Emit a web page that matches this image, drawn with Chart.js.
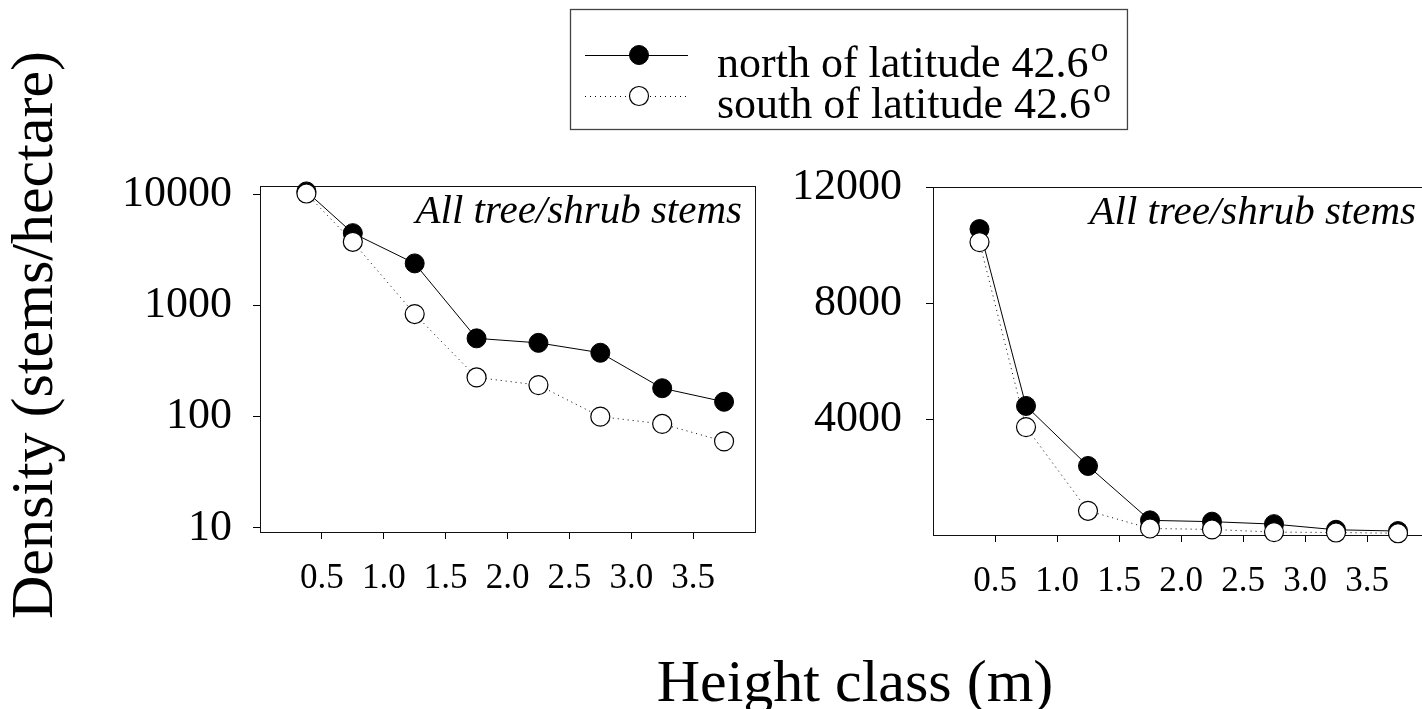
<!DOCTYPE html>
<html>
<head>
<meta charset="utf-8">
<script src="https://cdn.jsdelivr.net/npm/chart.js@4.4.1/dist/chart.umd.min.js"></script>
<style>
  html, body { margin: 0; padding: 0; background: #fff; }
  #wrap { position: relative; width: 1422px; height: 709px; overflow: hidden; background: #fff; }
  canvas { position: absolute; top: 0; }
  #logPanel { left: 0; }
  #linPanel { left: 760px; }
</style>
</head>
<body>
<div id="wrap">
  <canvas id="logPanel" width="1422" height="709"></canvas>
  <canvas id="linPanel" width="680" height="709"></canvas>
</div>
<script>
// Height class midpoints (m) and stem densities (stems/hectare)
const heightClass  = [0.375, 0.75, 1.25, 1.75, 2.25, 2.75, 3.25, 3.75];
const northDensity = [10550, 4450, 2380, 505, 460, 375, 180, 136];
const southDensity = [10100, 3720, 835, 225, 192, 100, 86, 60];

// Tick values
const xTickValues   = [0.5, 1.0, 1.5, 2.0, 2.5, 3.0, 3.5];
const logTickValues = [10, 100, 1000, 10000];
const linTickValues = [4000, 8000, 12000];

// Text
const seriesNames = ['north of latitude 42.6', 'south of latitude 42.6'];
const degreeMark  = 'o';
const panelLabel  = 'All tree/shrub stems';
const yTitle      = 'Density (stems/hectare)';
const xTitle      = 'Height class (m)';

const SERIF = "'Liberation Serif', 'Times New Roman', serif";

function toPoints(values) {
  return heightClass.map((x, i) => ({ x: x, y: values[i] }));
}

function makeDatasets() {
  return [
    {
      label: seriesNames[0],
      data: toPoints(northDensity),
      borderColor: '#000',
      borderWidth: 1,
      backgroundColor: '#000',
      pointBackgroundColor: '#000',
      pointBorderColor: '#000',
      pointBorderWidth: 1,
      pointRadius: 9.5,
      order: 2,
      clip: false,
      tension: 0
    },
    {
      label: seriesNames[1],
      data: toPoints(southDensity),
      borderColor: '#000',
      borderWidth: 1,
      borderDash: [1, 4],
      backgroundColor: '#fff',
      pointBackgroundColor: '#fff',
      pointBorderColor: '#000',
      pointBorderWidth: 1.2,
      pointRadius: 9.5,
      order: 1,
      clip: false,
      tension: 0
    }
  ];
}

// Box around the plotting area plus the italic panel caption
const panelFrame = {
  id: 'panelFrame',
  beforeDatasetsDraw(chart) {
    const { ctx, chartArea: a } = chart;
    ctx.save();
    ctx.strokeStyle = '#111';
    ctx.lineWidth = 1;
    ctx.strokeRect(Math.round(a.left) + 0.5, Math.round(a.top) + 0.5,
                   Math.round(a.right - a.left), Math.round(a.bottom - a.top));
    ctx.font = 'italic 41px ' + SERIF;
    ctx.fillStyle = '#000';
    ctx.textAlign = 'right';
    ctx.textBaseline = 'alphabetic';
    ctx.fillText(panelLabel, a.right - 13, a.top + 37);
    ctx.restore();
  }
};

// Shared axis titles and the legend box spanning both panels
const sharedText = {
  id: 'sharedText',
  afterDraw(chart) {
    const ctx = chart.ctx;
    ctx.save();
    ctx.fillStyle = '#000';
    ctx.font = '60px ' + SERIF;
    ctx.textAlign = 'center';
    ctx.textBaseline = 'alphabetic';
    ctx.translate(52, 335);
    ctx.rotate(-Math.PI / 2);
    ctx.fillText(yTitle, 0, 0);
    ctx.restore();

    ctx.save();
    ctx.fillStyle = '#000';
    ctx.font = '60px ' + SERIF;
    ctx.textAlign = 'center';
    ctx.textBaseline = 'alphabetic';
    ctx.fillText(xTitle, 855, 701);
    ctx.restore();

    // legend
    const ds = chart.data.datasets;
    const rowY = [55, 96];
    const baseY = [77, 118];
    const lineX0 = 585, lineX1 = 688, markX = 639, textX = 717;
    ctx.save();
    ctx.font = '44px ' + SERIF;
    let maxW = 0;
    ds.forEach(d => { maxW = Math.max(maxW, ctx.measureText(d.label).width); });
    ctx.font = '36px ' + SERIF;
    const supW = ctx.measureText(degreeMark).width;
    const boxL = 570, boxT = 9, boxB = 129;
    const boxR = textX + maxW + 2 + supW + 16;
    ctx.strokeStyle = '#444';
    ctx.lineWidth = 1.3;
    ctx.strokeRect(boxL + 0.5, boxT + 0.5, boxR - boxL, boxB - boxT);

    ds.forEach((d, i) => {
      const y = rowY[i];
      ctx.save();
      ctx.strokeStyle = d.borderColor;
      ctx.lineWidth = d.borderWidth;
      ctx.setLineDash(d.borderDash || []);
      ctx.beginPath();
      ctx.moveTo(lineX0, y + 0.5);
      ctx.lineTo(lineX1, y + 0.5);
      ctx.stroke();
      ctx.setLineDash([]);
      ctx.beginPath();
      ctx.arc(markX, y, d.pointRadius, 0, Math.PI * 2);
      ctx.fillStyle = d.pointBackgroundColor;
      ctx.fill();
      ctx.lineWidth = d.pointBorderWidth;
      ctx.strokeStyle = d.pointBorderColor;
      ctx.stroke();
      ctx.restore();

      ctx.fillStyle = '#000';
      ctx.textAlign = 'left';
      ctx.textBaseline = 'alphabetic';
      ctx.font = '44px ' + SERIF;
      ctx.fillText(d.label, textX, baseY[i]);
      const w = ctx.measureText(d.label).width;
      ctx.font = '36px ' + SERIF;
      ctx.fillText(degreeMark, textX + w + 2, baseY[i] - 16);
    });
    ctx.restore();
  }
};

const axisLine = { display: true, color: '#000', width: 1 };
const tickMarks = { drawOnChartArea: false, drawTicks: true, tickLength: 7, color: '#000', lineWidth: 1 };

function xAxis() {
  return {
    type: 'linear',
    min: 0,
    max: 4,
    afterBuildTicks: s => { s.ticks = xTickValues.map(v => ({ value: v })); },
    afterFit: s => { s.height = 80; },
    ticks: {
      font: { family: SERIF, size: 35 },
      color: '#000',
      padding: 19,
      maxRotation: 0,
      autoSkip: false,
      callback: v => Number(v).toFixed(1)
    },
    grid: tickMarks,
    border: axisLine
  };
}

const common = {
  responsive: false,
  animation: false,
  events: [],
  plugins: { legend: { display: false }, tooltip: { enabled: false } }
};

new Chart(document.getElementById('logPanel'), {
  type: 'line',
  data: { datasets: makeDatasets() },
  options: Object.assign({}, common, {
    layout: { padding: { left: 0, top: 186, right: 1422 - 755, bottom: 709 - 532 - 80 } },
    scales: {
      x: xAxis(),
      y: {
        type: 'logarithmic',
        min: 9.2,
        max: 11800,
        afterBuildTicks: s => { s.ticks = logTickValues.map(v => ({ value: v })); },
        afterFit: s => { s.width = 260; },
        ticks: {
          font: { family: SERIF, size: 44 },
          color: '#000',
          padding: 21,
          autoSkip: false,
          callback: v => String(v)
        },
        grid: tickMarks,
        border: axisLine
      }
    }
  }),
  plugins: [panelFrame, sharedText]
});

new Chart(document.getElementById('linPanel'), {
  type: 'line',
  data: { datasets: makeDatasets() },
  options: Object.assign({}, common, {
    layout: { padding: { left: 0, top: 187, right: 11, bottom: 709 - 535 - 80 } },
    scales: {
      x: xAxis(),
      y: {
        type: 'linear',
        min: 0,
        max: 12000,
        afterBuildTicks: s => { s.ticks = linTickValues.map(v => ({ value: v })); },
        afterFit: s => { s.width = 173; },
        ticks: {
          font: { family: SERIF, size: 44 },
          color: '#000',
          padding: 24,
          autoSkip: false,
          callback: v => String(v)
        },
        grid: tickMarks,
        border: axisLine
      }
    }
  }),
  plugins: [panelFrame]
});
</script>
</body>
</html>
